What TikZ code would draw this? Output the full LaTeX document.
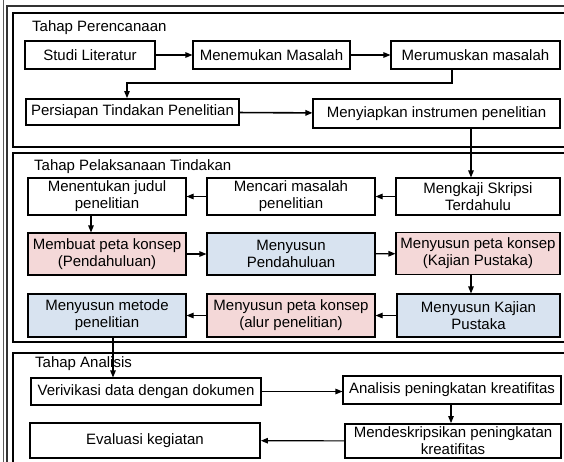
\documentclass[tikz,border=0pt]{standalone}
\usepackage{fontspec}
\setmainfont{Liberation Sans}
\usetikzlibrary{arrows.meta}
\definecolor{pinkfill}{RGB}{244,216,216}
\definecolor{bluefill}{RGB}{216,227,240}
\definecolor{framegray}{RGB}{90,90,90}
\begin{document}
\begin{tikzpicture}[x=1pt,y=-1pt,
  box/.style={draw=black,line width=1.1pt,inner sep=0pt,align=center,
    font=\fontsize{15}{17}\selectfont,text=black},
  thickbox/.style={box,line width=1.8pt},
  pinkbox/.style={box,fill=pinkfill},
  bluebox/.style={box,fill=bluefill},
  sec/.style={draw=black,line width=1.4pt},
  arr/.style={draw=black,line width=1.1pt,-{Triangle[length=7pt,width=5.5pt]}},
  ttl/.style={anchor=west,inner sep=0pt,font=\fontsize{15}{17}\selectfont,text=black}]
\useasboundingbox (0,0) rectangle (564,461);
\clip (0,0) rectangle (564,461);
\fill[white] (0,0) rectangle (564,461);
% outer frame
\draw[framegray,line width=1.2pt] (3.5,-5) -- (3.5,470);
\draw[black!80,line width=1.2pt] (7,470) -- (7,6) -- (580,6);
% sections
\draw[sec] (13,13) rectangle (600,147);
\draw[sec] (13,153) rectangle (600,342);
\draw[sec] (13,353) rectangle (600,480);
\node[ttl] (t1) at (32,28) {Tahap Perencanaan};
\node[ttl] (t2) at (34,167) {Tahap Pelaksanaan Tindakan};
\node[ttl] (t3) at (35,364) {Tahap Analisis};
% section 1
\node[box,minimum width=130pt,minimum height=28pt] (studi) at (90,55) {Studi Literatur};
\node[box,minimum width=157pt,minimum height=28pt] (menemukan) at (271.5,55) {Menemukan Masalah};
\node[box,minimum width=169pt,minimum height=28pt] (merumuskan) at (475.5,55) {Merumuskan masalah};
\node[thickbox,minimum width=213pt,minimum height=26pt] (persiapan) at (132.5,112) {Persiapan Tindakan Penelitian};
\node[box,minimum width=247pt,minimum height=29pt] (menyiapkan) at (436.5,113.5) {Menyiapkan instrumen penelitian};
% section 2
\node[box,minimum width=158pt,minimum height=37pt] (menentukan) at (107,196.5) {Menentukan judul\\penelitian};
\node[box,minimum width=168pt,minimum height=37pt] (mencari) at (291,196.5) {Mencari masalah\\penelitian};
\node[box,minimum width=164pt,minimum height=37pt] (mengkaji) at (478,196.5) {Mengkaji Skripsi\\Terdahulu};
\node[pinkbox,minimum width=158pt,minimum height=42pt] (membuat) at (107,254) {Membuat peta konsep\\(Pendahuluan)};
\node[bluebox,minimum width=168pt,minimum height=42pt] (pendahuluan) at (291,254) {Menyusun\\Pendahuluan};
\node[pinkbox,minimum width=164pt,minimum height=42pt] (kpk) at (478,253.5) {Menyusun peta konsep\\(Kajian Pustaka)};
\node[bluebox,minimum width=158pt,minimum height=43pt] (metode) at (107,315.5) {Menyusun metode\\penelitian};
\node[pinkbox,minimum width=168pt,minimum height=43pt] (alur) at (291,315.5) {Menyusun peta konsep\\(alur penelitian)};
\node[bluebox,minimum width=163pt,minimum height=43pt] (kajian) at (478.5,315.5) {Menyusun Kajian\\Pustaka};
% section 3
\node[box,minimum width=230pt,minimum height=27pt] (verivikasi) at (146,391.5) {Verivikasi data dengan dokumen};
\node[box,minimum width=218pt,minimum height=28pt] (analisis) at (452,390) {Analisis peningkatan kreatifitas};
\node[thickbox,minimum width=216pt,minimum height=34pt] (mendes) at (453,441) {Mendeskripsikan peningkatan\\kreatifitas};
\node[thickbox,minimum width=230pt,minimum height=35pt] (evaluasi) at (145,440.5) {Evaluasi kegiatan};
% helper coordinates
\coordinate (k1) at (452,83);
\coordinate (k2) at (127,83);
\coordinate (k3) at (471,0);
\coordinate (k4) at (91,0);
\coordinate (k5) at (113,0);
\coordinate (k6) at (451,0);
% connectors
\draw[arr] (studi) -- (menemukan);
\draw[arr] (menemukan) -- (merumuskan);
\draw[arr] (merumuskan.south -| k1) -- (k1) -- (k2) -- (persiapan.north -| k2);
\draw[arr,line width=1.6pt] (persiapan) -- (menyiapkan);
\draw[arr] (menyiapkan.south -| k3) -- (mengkaji.north -| k3);
\draw[arr] (mengkaji) -- (mencari);
\draw[arr] (mencari) -- (menentukan);
\draw[arr] (menentukan.south -| k4) -- (membuat.north -| k4);
\draw[arr] (membuat) -- (pendahuluan);
\draw[arr] (pendahuluan) -- (kpk);
\draw[arr] (kpk.south -| k3) -- (kajian.north -| k3);
\draw[arr] (kajian) -- (alur);
\draw[arr] (alur) -- (metode);
\draw[arr] (metode.south -| k5) -- (verivikasi.north -| k5);
\draw[arr] (verivikasi.east) -- (analisis.west |- verivikasi.east);
\draw[arr] (analisis.south -| k6) -- (mendes.north -| k6);
\draw[arr] (mendes) -- (evaluasi);
\end{tikzpicture}
\end{document}
